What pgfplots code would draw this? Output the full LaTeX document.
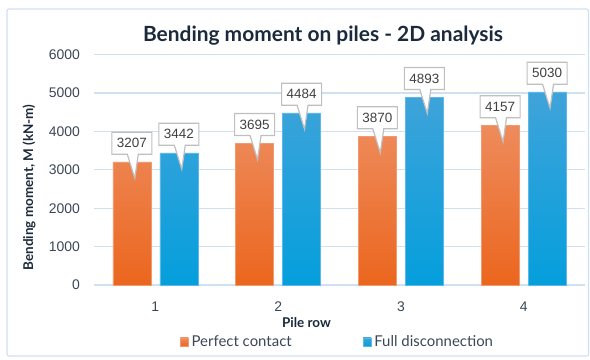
\documentclass[border=0pt]{standalone}
\usepackage{fontspec}
\setmainfont{Lato}
\newfontfamily\numfont{Liberation Sans}
\usepackage{pgfplots}
\pgfplotsset{compat=1.18}
\usetikzlibrary{shapes.callouts}

\definecolor{framecol}{HTML}{CFE0F2}
\definecolor{gridcol}{HTML}{CFE0F3}
\definecolor{titlecol}{HTML}{1B2A3B}
\definecolor{tickcol}{HTML}{3B4656}
\definecolor{labelcol}{HTML}{404040}
\definecolor{calloutcol}{HTML}{BFBFBF}
\definecolor{orangetop}{HTML}{EE8B5C}
\definecolor{orangebot}{HTML}{EB661E}
\definecolor{orangeedge}{HTML}{F19A70}
\definecolor{bluetop}{HTML}{40A3DA}
\definecolor{bluebot}{HTML}{049FDC}
\definecolor{blueedge}{HTML}{5CB8E6}

\begin{document}
\begin{tikzpicture}[x=1bp,y=1bp]
\useasboundingbox (0,0) rectangle (590,359);
% chart frame
\draw[framecol, line width=1.2bp, rounded corners=2bp] (7,3) rectangle (588.5,350);

\begin{axis}[
  at={(94bp,74bp)}, anchor=south west,
  scale only axis, width=491bp, height=230.4bp,
  ybar=9bp, bar width=38bp,
  xmin=0.5, xmax=4.5, ymin=0, ymax=6000,
  xtick={1,2,3,4}, ytick={0,1000,...,6000},
  ymajorgrids, major grid style={draw=gridcol, line width=1.2bp},
  axis line style={draw=none}, major tick length=0pt,
  /pgf/number format/assume math mode=true,
  /pgf/number format/1000 sep={},
  tick label style={font=\numfont\fontsize{14}{16}\selectfont, text=tickcol, inner sep=0pt},
  yticklabel style={anchor=east, xshift=-14bp},
  xticklabel style={anchor=north, yshift=-17bp},
  nodes near coords,
  nodes near coords style={
    shape=rectangle callout, draw=calloutcol, line width=1.2bp, fill=white,
    text=labelcol, font=\numfont\fontsize{13.5}{15}\selectfont,
    minimum width=40bp, minimum height=22bp, inner sep=2bp,
    anchor=south, yshift=7bp,
    callout relative pointer={(2bp,-24bp)}, callout pointer width=11bp},
  legend style={at={(0.497,-0.247)}, anchor=center, draw=none, fill=none,
    legend columns=2, font=\fontsize{15}{17}\selectfont, text=tickcol,
    inner sep=0pt, nodes={inner sep=3bp},
    /tikz/every even column/.append style={column sep=68bp}},
  legend image code/.code={\fill[#1] (0bp,-4bp) rectangle (8bp,4bp);},
]
\addplot[draw=orangeedge, line width=0.6bp, top color=orangetop, bottom color=orangebot]
  coordinates {(1,3207) (2,3695) (3,3870) (4,4157)};
\addplot[draw=blueedge, line width=0.6bp, top color=bluetop, bottom color=bluebot]
  coordinates {(1,3442) (2,4484) (3,4893) (4,5030)};
\legend{Perfect contact, Full disconnection}
\end{axis}

\node[font=\bfseries\fontsize{21}{25}\selectfont, text=titlecol] at (323,323)
  {Bending moment on piles - 2D analysis};
\node[rotate=90, font=\bfseries\fontsize{13.5}{15}\selectfont, text=titlecol] at (29,171.5)
  {Bending moment, M (kN-m)};
\node[font=\bfseries\fontsize{13.5}{15}\selectfont, text=titlecol] at (306.5,36) {Pile row};
\end{tikzpicture}
\end{document}
